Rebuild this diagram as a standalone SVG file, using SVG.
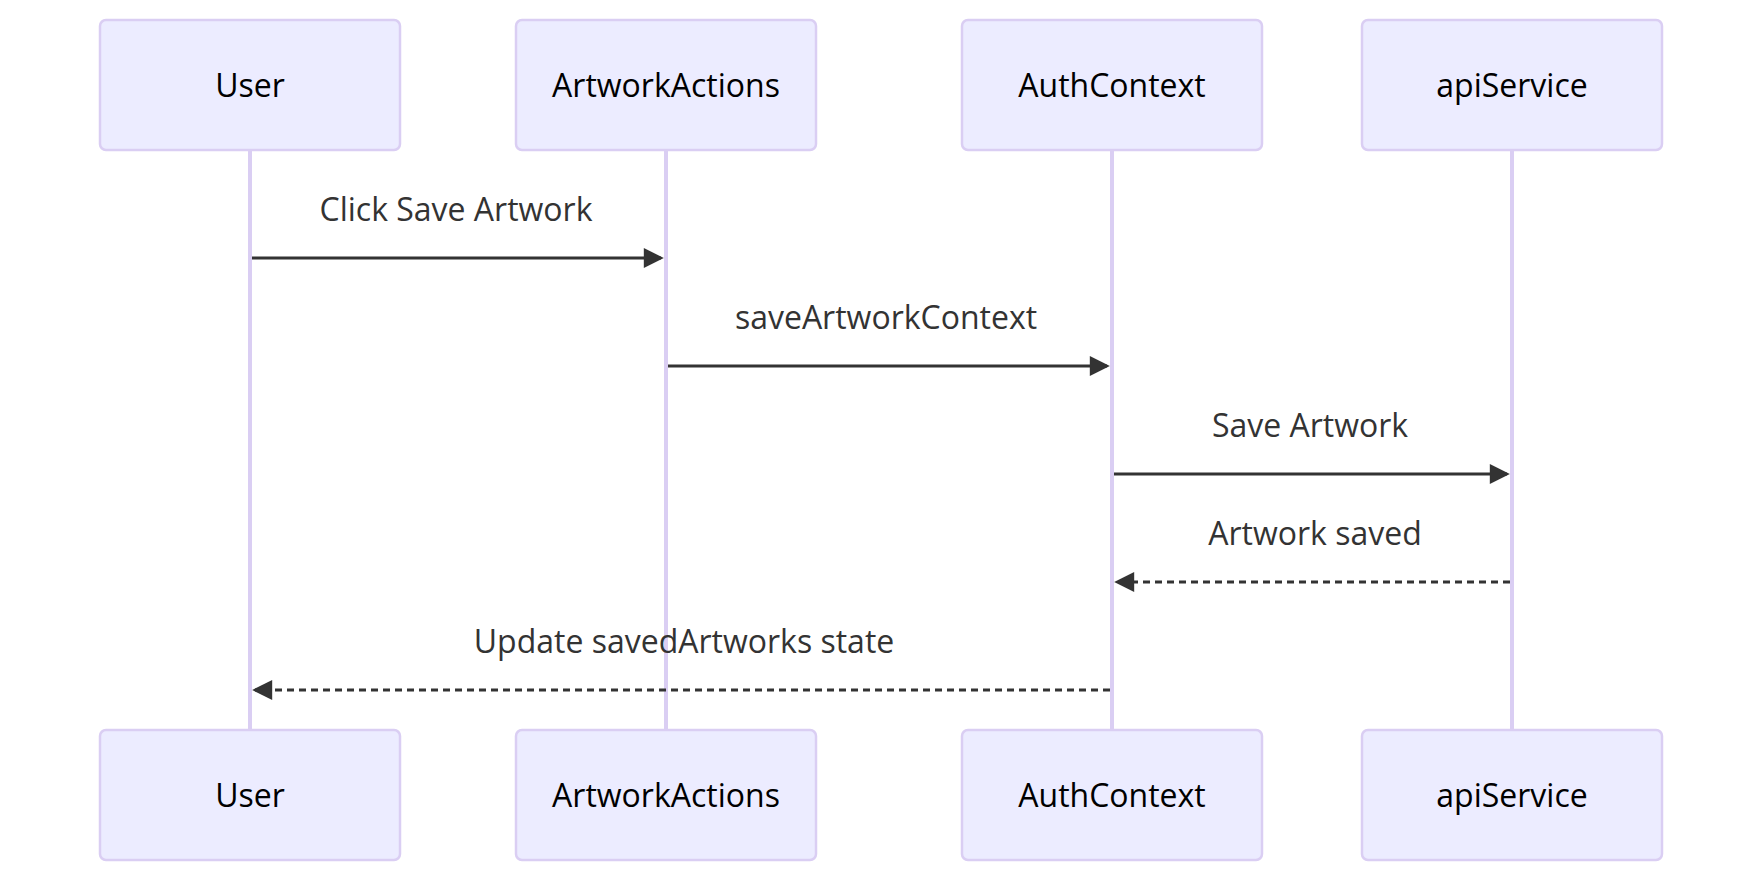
<svg xmlns="http://www.w3.org/2000/svg" width="1762" height="882" viewBox="0 0 1762 882">
<style>
.actor rect{fill:#ECECFF;stroke:#DACEF3;stroke-width:2.5}
.actor text{font-family:"Open Sans","Noto Sans",sans-serif;font-size:32px;fill:#000;text-anchor:middle}
.life{stroke:#DACEF3;stroke-width:4}
.msg{stroke:#333;stroke-width:3;fill:none}
.dash{stroke-dasharray:7,5}
.lbl{font-family:"Open Sans","Noto Sans",sans-serif;font-size:32px;fill:#333;text-anchor:middle}
</style>
<defs>
<marker id="arr" viewBox="0 0 10 10" refX="8.6" refY="5" markerWidth="22" markerHeight="20" markerUnits="userSpaceOnUse" orient="auto">
<path d="M0,0 L10,5 L0,10 z" fill="#333"/>
</marker>
</defs>
<g id="lifelines">
<line class="life" x1="250" y1="150" x2="250" y2="730"/>
<line class="life" x1="666" y1="150" x2="666" y2="730"/>
<line class="life" x1="1112" y1="150" x2="1112" y2="730"/>
<line class="life" x1="1512" y1="150" x2="1512" y2="730"/>
</g>
<g id="actor-user-top" class="actor"><rect x="100" y="20" width="300" height="130" rx="6"/><text x="250" y="97">User</text></g>
<g id="actor-artworkactions-top" class="actor"><rect x="516" y="20" width="300" height="130" rx="6"/><text x="666" y="97">ArtworkActions</text></g>
<g id="actor-authcontext-top" class="actor"><rect x="962" y="20" width="300" height="130" rx="6"/><text x="1112" y="97">AuthContext</text></g>
<g id="actor-apiservice-top" class="actor"><rect x="1362" y="20" width="300" height="130" rx="6"/><text x="1512" y="97">apiService</text></g>
<g id="actor-user-bottom" class="actor"><rect x="100" y="730" width="300" height="130" rx="6"/><text x="250" y="807">User</text></g>
<g id="actor-artworkactions-bottom" class="actor"><rect x="516" y="730" width="300" height="130" rx="6"/><text x="666" y="807">ArtworkActions</text></g>
<g id="actor-authcontext-bottom" class="actor"><rect x="962" y="730" width="300" height="130" rx="6"/><text x="1112" y="807">AuthContext</text></g>
<g id="actor-apiservice-bottom" class="actor"><rect x="1362" y="730" width="300" height="130" rx="6"/><text x="1512" y="807">apiService</text></g>
<g id="connectors">
<line class="msg" x1="252" y1="258" x2="661" y2="258" marker-end="url(#arr)"/>
<text class="lbl" x="456" y="221">Click Save Artwork</text>
<line class="msg" x1="668" y1="366" x2="1107" y2="366" marker-end="url(#arr)"/>
<text class="lbl" x="886" y="329">saveArtworkContext</text>
<line class="msg" x1="1114" y1="474" x2="1507" y2="474" marker-end="url(#arr)"/>
<text class="lbl" x="1310" y="437">Save Artwork</text>
<line class="msg dash" x1="1510" y1="582" x2="1117" y2="582" marker-end="url(#arr)"/>
<text class="lbl" x="1315" y="545">Artwork saved</text>
<line class="msg dash" x1="1110" y1="690" x2="255" y2="690" marker-end="url(#arr)"/>
<text class="lbl" x="684" y="653">Update savedArtworks state</text>
</g>
</svg>
